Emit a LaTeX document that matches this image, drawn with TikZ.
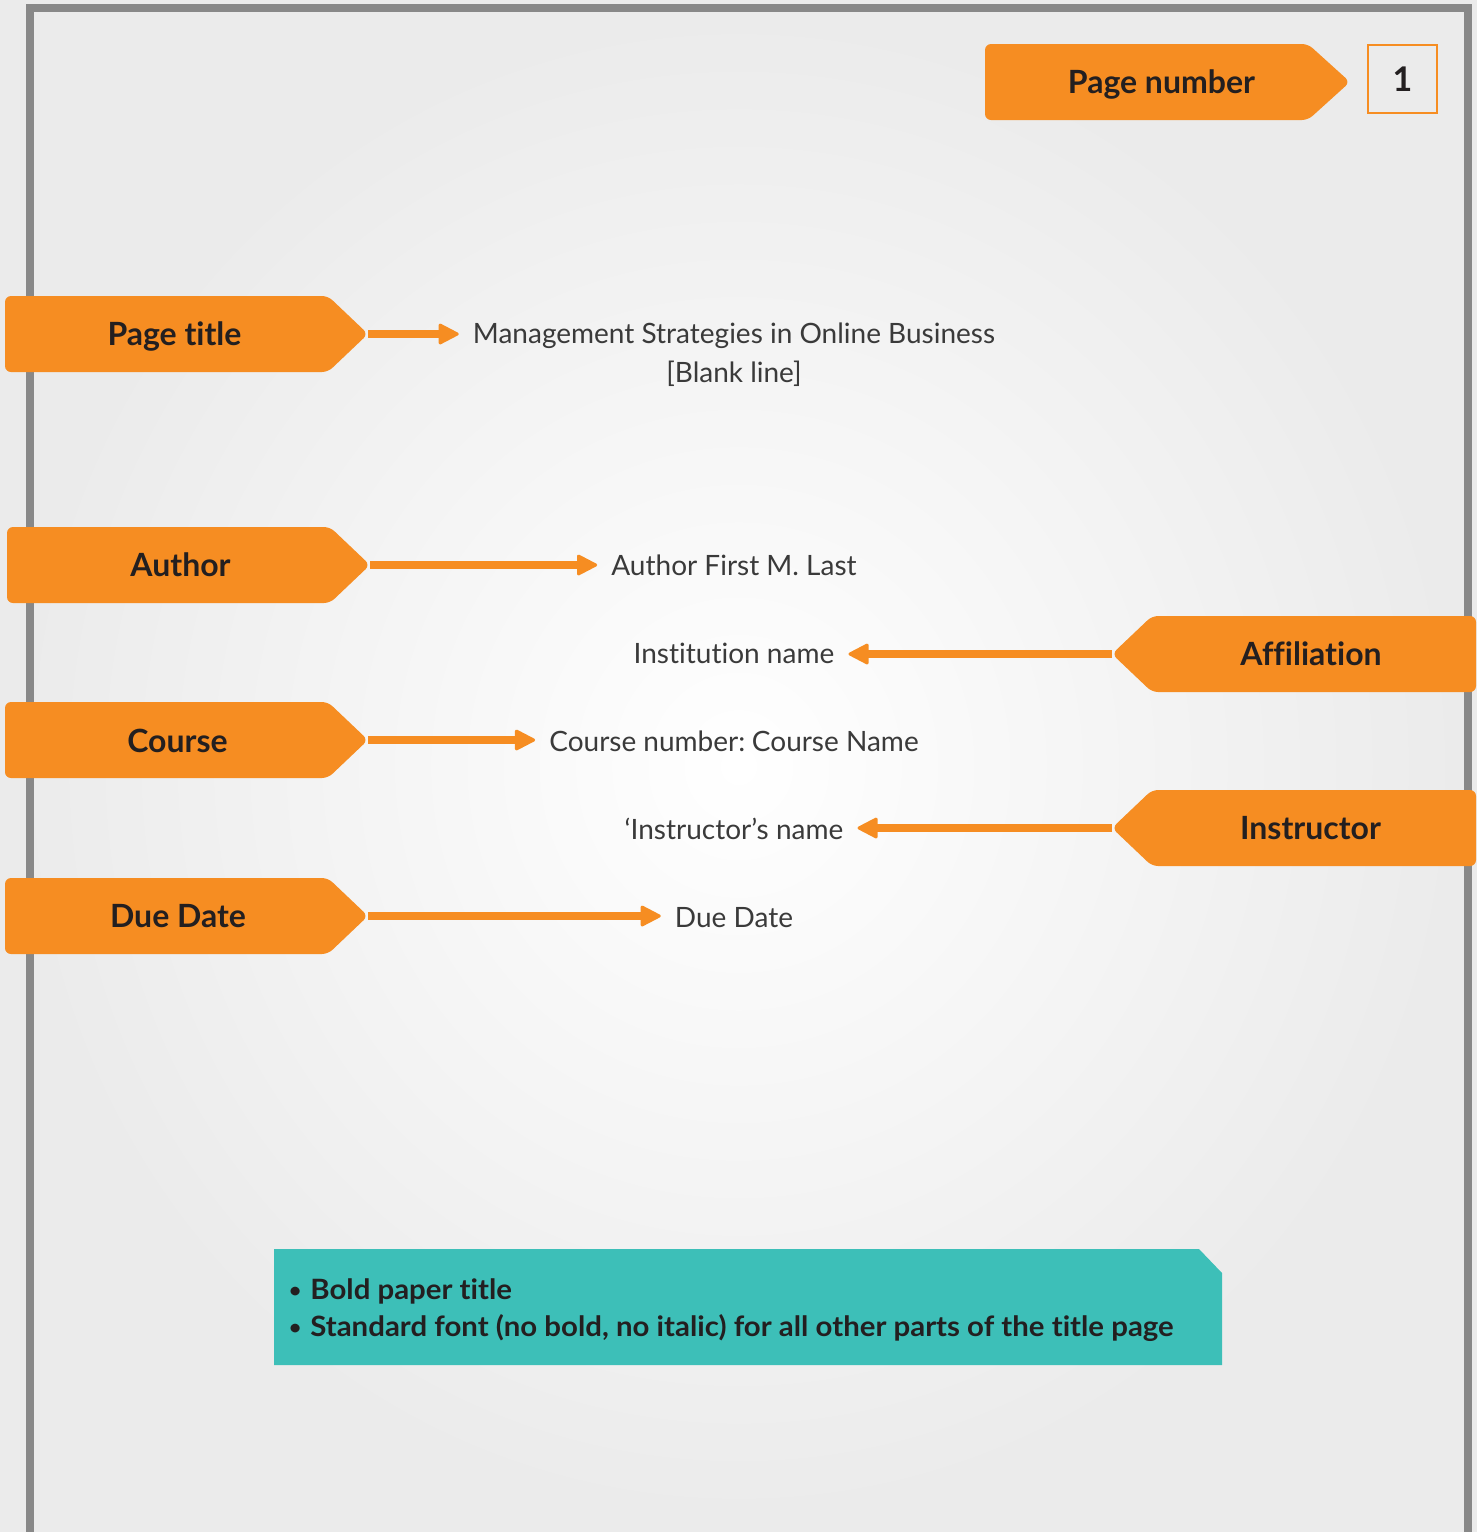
\documentclass[tikz,border=0pt]{standalone}
\usepackage{fontspec}
\setmainfont[Ligatures=CommonOff]{Lato}
\newfontfamily\widefont[FakeStretch=1.05,Ligatures=CommonOff]{Lato}
\usetikzlibrary{arrows.meta}
\definecolor{lab}{HTML}{F68D22}
\definecolor{tealbox}{HTML}{3DBFB8}
\definecolor{framec}{HTML}{888888}
\definecolor{txt}{HTML}{3A3A3A}
\definecolor{dark}{HTML}{231F20}
\newcommand\smallbul{\raisebox{2pt}{\fontsize{20}{20}\selectfont•}\kern9pt}
\tikzset{
  tag/.style={fill=lab, rounded corners=6pt},
  tagtext/.style={anchor=base, inner sep=0pt, text=dark, font=\fontsize{32}{38}\selectfont\bfseries},
  body/.style={anchor=base, inner sep=0pt, text=txt, font=\fontsize{28}{33}\selectfont},
  notetext/.style={anchor=base west, inner sep=0pt, text=dark, font=\fontsize{28}{37}\selectfont\widefont\bfseries},
  conn/.style={draw=lab, line width=8pt, shorten >=14pt,
    -{Triangle[length=22pt,width=22pt,line width'=3pt,round]}},
  framel/.style={draw=framec, line width=8pt},
}
\begin{document}
\begin{tikzpicture}[x=1pt,y=-1pt]
\useasboundingbox (0,0) rectangle (1477,1532);
\shade[inner color=white, outer color=black!8] (0,0) rectangle (1477,1532);
\draw[framel] (30,1532) -- (30,8) -- (1468,8) -- (1468,1532);

% page number
\fill[tag] (985,44) -- (1308,44) -- (1350,82) -- (1308,120) -- (985,120) -- cycle;
\coordinate (pnTip) at (1350,82);
\node[tagtext] (pnT) at (1161.5,93) {Page number};
\node[draw=lab, line width=2pt, minimum width=69pt, minimum height=68pt, inner sep=0pt,
  text=dark, font=\fontsize{34}{40}\selectfont\bfseries] (pnBox) at (1402.5,79) {1};

% page title
\fill[tag] (5,296) -- (328,296) -- (368,334) -- (328,372) -- (5,372) -- cycle;
\coordinate (ptTip) at (368,334);
\node[tagtext] (ptT) at (174.5,345) {Page title};
\node[body] (title) at (734,343) {Management Strategies in Online Business};
\node[body] (blank) at (734,382) {[Blank line]};
\draw[conn] (ptTip) -- (ptTip -| title.west);

% author
\fill[tag] (7,527) -- (330,527) -- (370,565) -- (330,603) -- (7,603) -- cycle;
\coordinate (auTip) at (370,565);
\node[tagtext] (auT) at (180.5,576) {Author};
\node[body] (author) at (734,575) {Author First M. Last};
\draw[conn] (auTip) -- (auTip -| author.west);

% affiliation
\fill[tag] (1112,654) -- (1152,616) -- (1476,616) -- (1476,692) -- (1152,692) -- cycle;
\coordinate (afTip) at (1112,654);
\node[tagtext] (afT) at (1311,665) {Affiliation};
\node[body] (inst) at (734,663) {Institution name};
\draw[conn] (afTip) -- (afTip -| inst.east);

% course
\fill[tag] (5,702) -- (328,702) -- (368,740) -- (328,778) -- (5,778) -- cycle;
\coordinate (coTip) at (368,740);
\node[tagtext] (coT) at (177.5,752) {Course};
\node[body] (course) at (734,751) {Course number:\kern-3pt{} Course Name};
\draw[conn] (coTip) -- (coTip -| course.west);

% instructor
\fill[tag] (1112,828) -- (1152,790) -- (1476,790) -- (1476,866) -- (1152,866) -- cycle;
\coordinate (inTip) at (1112,828);
\node[tagtext] (inT) at (1310.5,839) {Instructor};
\node[body] (instr) at (734,839) {‘Instructor’s name};
\draw[conn] (inTip) -- (inTip -| instr.east);

% due date
\fill[tag] (5,878) -- (328,878) -- (368,916) -- (328,954) -- (5,954) -- cycle;
\coordinate (ddTip) at (368,916);
\node[tagtext] (ddT) at (178,927) {Due Date};
\node[body] (due) at (734,927) {Due Date};
\draw[conn] (ddTip) -- (ddTip -| due.west);

% note box
\fill[tealbox] (274,1249) -- (1199,1249) -- (1222,1273) -- (1222,1365) -- (274,1365) -- cycle;
\node[notetext] (note1) at (289,1299) {\smallbul Bold paper title};
\node[notetext] (note2) at (289,1336) {\smallbul Standard font (no bold, no italic) for all other parts of the title page};
\end{tikzpicture}
\end{document}
